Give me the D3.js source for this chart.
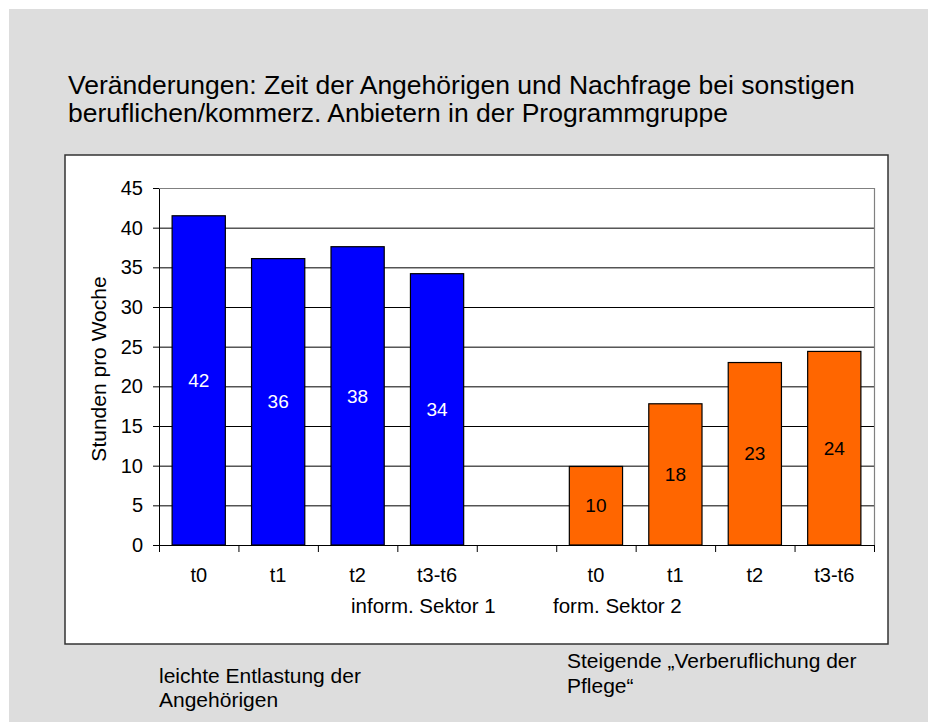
<!DOCTYPE html>
<html>
<head>
<meta charset="utf-8">
<script src="https://cdn.jsdelivr.net/npm/d3@7"></script>
<style>
  html, body { margin: 0; padding: 0; background: #fff; }
</style>
</head>
<body>
<div id="chart"></div>
<script>
const periods = ["t0", "t1", "t2", "t3-t6"];
const informValues = [41.5, 36.1, 37.6, 34.2];
const formValues = [9.9, 17.8, 23.0, 24.4];
const yTicks = [0, 5, 10, 15, 20, 25, 30, 35, 40, 45];
const sectorLabels = ["inform. Sektor 1", "form. Sektor 2"];
const titleLines = [
  "Veränderungen: Zeit der Angehörigen und Nachfrage bei sonstigen",
  "beruflichen/kommerz. Anbietern in der Programmgruppe"
];
const noteLeft = ["leichte Entlastung der", "Angehörigen"];
const noteRight = ["Steigende „Verberuflichung der", "Pflege“"];

const width = 928;
const height = 722;
const font = "'Liberation Sans', Arial, sans-serif";

// slots: 4 informal, one empty gap, 4 formal
const slots = [
  ...periods.map((p, i) => ({ key: "s1-" + p, label: p, value: informValues[i], sector: 0 })),
  { key: "gap", label: "", value: null, sector: -1 },
  ...periods.map((p, i) => ({ key: "s2-" + p, label: p, value: formValues[i], sector: 1 }))
];

const plot = { left: 159, right: 874, top: 188, bottom: 545 };

const svg = d3.select("#chart")
  .append("svg")
  .attr("width", width)
  .attr("height", height)
  .style("font-family", font);

// page background
svg.append("rect")
  .attr("x", 9).attr("y", 9)
  .attr("width", width - 9).attr("height", height - 9)
  .attr("fill", "#dddddd");

// title
svg.append("g")
  .selectAll("text")
  .data(titleLines)
  .join("text")
  .attr("x", 68)
  .attr("y", (d, i) => 94 + i * 28)
  .attr("font-size", "26.5px")
  .attr("fill", "#000")
  .text(d => d);

// chart box
svg.append("rect")
  .attr("x", 65).attr("y", 155)
  .attr("width", 823).attr("height", 489)
  .attr("fill", "#fff")
  .attr("stroke", "#333")
  .attr("stroke-width", 1.5);

const x = d3.scaleBand()
  .domain(slots.map(d => d.key))
  .range([plot.left, plot.right])
  .paddingInner(0.33)
  .paddingOuter(0.165);

const xBounds = d3.scaleLinear()
  .domain([0, slots.length])
  .range([plot.left, plot.right]);

const y = d3.scaleLinear()
  .domain([0, 45])
  .range([plot.bottom, plot.top]);

const color = ["#0000ff", "#ff6600"];
const labelColor = ["#fff", "#000"];

// y axis
svg.append("g")
  .attr("transform", `translate(${plot.left},0)`)
  .call(d3.axisLeft(y).tickValues(yTicks).tickSize(6).tickPadding(10))
  .call(g => g.select(".domain").attr("stroke", "#000"))
  .call(g => g.selectAll(".tick line").attr("stroke", "#000"))
  .call(g => g.selectAll(".tick text")
    .attr("font-size", "20px")
    .attr("font-family", font)
    .attr("fill", "#000"));

// gridlines
svg.append("g")
  .selectAll("line")
  .data(yTicks.filter(t => t > 0 && t < 45))
  .join("line")
  .attr("x1", plot.left).attr("x2", plot.right)
  .attr("y1", d => y(d) + 0.5).attr("y2", d => y(d) + 0.5)
  .attr("stroke", "#000")
  .attr("stroke-width", 1);

// plot area border (top / right)
svg.append("path")
  .attr("d", `M${plot.left},${y(45) + 0.5}H${plot.right + 0.5}V${plot.bottom}`)
  .attr("fill", "none")
  .attr("stroke", "#808080")
  .attr("stroke-width", 1.2);

// bars
const bars = svg.append("g")
  .selectAll("g")
  .data(slots.filter(d => d.value != null))
  .join("g");

bars.append("rect")
  .attr("x", d => x(d.key))
  .attr("y", d => y(d.value))
  .attr("width", x.bandwidth())
  .attr("height", d => y(0) - y(d.value))
  .attr("fill", d => color[d.sector])
  .attr("stroke", "#000")
  .attr("stroke-width", 1.2);

bars.append("text")
  .attr("x", d => x(d.key) + x.bandwidth() / 2)
  .attr("y", d => (y(d.value) + y(0)) / 2)
  .attr("dy", "0.35em")
  .attr("text-anchor", "middle")
  .attr("font-size", "19px")
  .attr("fill", d => labelColor[d.sector])
  .text(d => Math.round(d.value));

// x axis
svg.append("line")
  .attr("x1", plot.left).attr("x2", plot.right + 1)
  .attr("y1", y(0) + 0.5).attr("y2", y(0) + 0.5)
  .attr("stroke", "#000");

svg.append("g")
  .selectAll("line")
  .data(d3.range(slots.length + 1))
  .join("line")
  .attr("x1", d => xBounds(d) + 0.5).attr("x2", d => xBounds(d) + 0.5)
  .attr("y1", y(0)).attr("y2", y(0) + 7)
  .attr("stroke", "#000");

svg.append("g")
  .selectAll("text")
  .data(slots)
  .join("text")
  .attr("x", d => x(d.key) + x.bandwidth() / 2)
  .attr("y", 582)
  .attr("text-anchor", "middle")
  .attr("font-size", "20px")
  .attr("fill", "#000")
  .text(d => d.label);

svg.append("g")
  .selectAll("text")
  .data(sectorLabels)
  .join("text")
  .attr("x", (d, i) => [351, 553][i])
  .attr("y", 613)
  .attr("font-size", "20.5px")
  .attr("fill", "#000")
  .text(d => d);

// y axis title
svg.append("text")
  .attr("transform", `translate(106,369) rotate(-90)`)
  .attr("text-anchor", "middle")
  .attr("font-size", "21px")
  .attr("fill", "#000")
  .text("Stunden pro Woche");

// notes below the chart
svg.append("g")
  .selectAll("text")
  .data(noteLeft)
  .join("text")
  .attr("x", 159)
  .attr("y", (d, i) => 683 + i * 24)
  .attr("font-size", "21px")
  .attr("fill", "#000")
  .text(d => d);

svg.append("g")
  .selectAll("text")
  .data(noteRight)
  .join("text")
  .attr("x", 567)
  .attr("y", (d, i) => 668 + i * 25)
  .attr("font-size", "21px")
  .attr("fill", "#000")
  .text(d => d);
</script>
</body>
</html>
